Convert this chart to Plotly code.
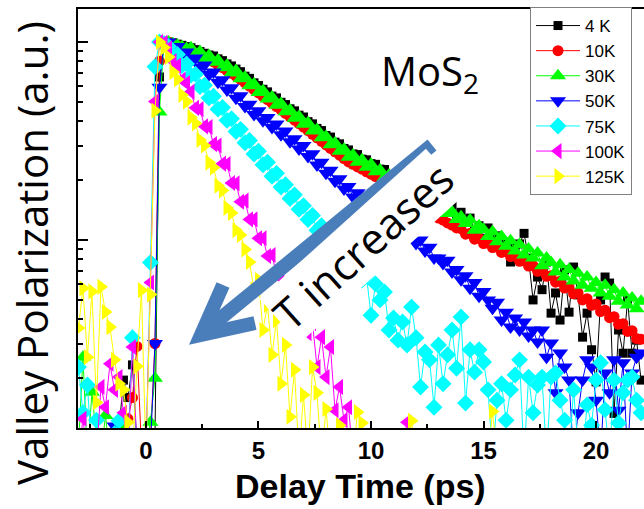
import plotly.graph_objects as go

# Delay time grid (ps)
T = [-3.0, -2.8, -2.6, -2.4, -2.2, -2.0, -1.8, -1.6, -1.4, -1.2,
     -1.0, -0.8, -0.6, -0.4, -0.2, 0.0, 0.2, 0.4, 0.6, 0.8,
     1.0, 1.2, 1.4, 1.6, 1.8, 2.0, 2.2, 2.4, 2.6, 2.8,
     3.0, 3.2, 3.4, 3.6, 3.8, 4.0, 4.2, 4.4, 4.6, 4.8,
     5.0, 5.2, 5.4, 5.6, 5.8, 6.0, 6.2, 6.4, 6.6, 6.8,
     7.0, 7.2, 7.4, 7.6, 7.8, 8.0, 8.2, 8.4, 8.6, 8.8,
     9.0, 9.2, 9.4, 9.6, 9.8, 10.0, 10.2, 10.4, 10.6, 10.8,
     11.0, 11.2, 11.4, 11.6, 11.8, 12.0, 12.2, 12.4, 12.6, 12.8,
     13.0, 13.2, 13.4, 13.6, 13.8, 14.0, 14.2, 14.4, 14.6, 14.8,
     15.0, 15.2, 15.4, 15.6, 15.8, 16.0, 16.2, 16.4, 16.6, 16.8,
     17.0, 17.2, 17.4, 17.6, 17.8, 18.0, 18.2, 18.4, 18.6, 18.8,
     19.0, 19.2, 19.4, 19.6, 19.8, 20.0, 20.2, 20.4, 20.6, 20.8,
     21.0, 21.2, 21.4, 21.6, 21.8, 22.0]

K4 = [0.008, 0.009, 0.008, 0.008, 0.010, 0.008, 0.009, 0.008, 0.008, 0.011,
      0.0196, 0.016, 0.0234, 0.009, 0.008, 0.009, 0.008, 0.010, 0.666, 0.97,
      1.0, 0.99, 0.975, 0.962, 0.948, 0.935, 0.915, 0.895, 0.877, 0.86,
      0.85, 0.822, 0.805, 0.775, 0.757, 0.73, 0.708, 0.672, 0.655, 0.622,
      0.603, 0.577, 0.56, 0.533, 0.522, 0.496, 0.483, 0.46, 0.449, 0.427,
      0.418, 0.396, 0.386, 0.366, 0.357, 0.337, 0.331, 0.312, 0.306, 0.29,
      0.285, 0.272, 0.27, 0.256, 0.254, 0.243, 0.241, 0.228, 0.227, 0.214,
      0.213, 0.202, 0.2, 0.189, 0.188, 0.179, 0.167, 0.175, 0.159, 0.163,
      0.152, 0.159, 0.142, 0.150, 0.134, 0.138, 0.123, 0.129, 0.112, 0.118,
      0.102, 0.115, 0.0943, 0.105, 0.089, 0.0977, 0.0774, 0.091, 0.0955, 0.108,
      0.081, 0.0498, 0.065, 0.0561, 0.0774, 0.0427, 0.054, 0.0394, 0.0706, 0.0432,
      0.073, 0.0528, 0.0323, 0.0427, 0.0279, 0.0192, 0.0498, 0.065, 0.0606, 0.0133,
      0.0351, 0.0268, 0.0498, 0.0268, 0.0312, 0.0196]

K10 = [0.008, 0.008, 0.009, 0.008, 0.008, 0.008, 0.009, 0.008, 0.008, 0.008,
       0.008, 0.0125, 0.016, 0.029, 0.009, 0.009, 0.010, 0.03, 0.80, 0.995,
       1.0, 0.979, 0.959, 0.939, 0.92, 0.90, 0.878, 0.856, 0.834, 0.813,
       0.793, 0.767, 0.742, 0.718, 0.695, 0.673, 0.647, 0.622, 0.598, 0.575,
       0.553, 0.531, 0.511, 0.491, 0.472, 0.454, 0.436, 0.419, 0.403, 0.387,
       0.372, 0.357, 0.342, 0.328, 0.315, 0.302, 0.29, 0.279, 0.268, 0.258,
       0.248, 0.241, 0.234, 0.228, 0.221, 0.215, 0.209, 0.204, 0.198, 0.193,
       0.187, 0.181, 0.174, 0.168, 0.161, 0.155, 0.150, 0.144, 0.139, 0.134,
       0.129, 0.126, 0.122, 0.119, 0.115, 0.114, 0.107, 0.108, 0.101, 0.102,
       0.096, 0.0965, 0.0915, 0.092, 0.0865, 0.0875, 0.0825, 0.083, 0.078, 0.0785,
       0.0738, 0.0742, 0.0695, 0.0698, 0.0655, 0.066, 0.0612, 0.0618, 0.0572, 0.0578,
       0.0535, 0.054, 0.0498, 0.0505, 0.0468, 0.0475, 0.0435, 0.0442, 0.0405, 0.041,
       0.0375, 0.0378, 0.0345, 0.0348, 0.0318, 0.0315]

K30 = [0.009, 0.0256, 0.008, 0.017, 0.010, 0.008, 0.013, 0.008, 0.009, 0.008,
       0.011, 0.008, 0.010, 0.009, 0.008, 0.009, 0.012, 0.02, 0.443, 0.99,
       1.0, 0.98, 0.963, 0.946, 0.928, 0.935, 0.865, 0.895, 0.825, 0.855,
       0.79, 0.81, 0.742, 0.762, 0.697, 0.718, 0.652, 0.663, 0.601, 0.613,
       0.556, 0.568, 0.516, 0.527, 0.479, 0.489, 0.444, 0.454, 0.412, 0.421,
       0.384, 0.391, 0.355, 0.361, 0.328, 0.333, 0.303, 0.309, 0.281, 0.287,
       0.262, 0.269, 0.247, 0.254, 0.233, 0.241, 0.221, 0.226, 0.207, 0.213,
       0.196, 0.20, 0.184, 0.188, 0.173, 0.177, 0.162, 0.167, 0.152, 0.158,
       0.148, 0.150, 0.136, 0.139, 0.127, 0.131, 0.121, 0.126, 0.112, 0.118,
       0.113, 0.104, 0.110, 0.098, 0.104, 0.093, 0.099, 0.088, 0.095, 0.084,
       0.090, 0.081, 0.086, 0.074, 0.081, 0.077, 0.069, 0.075, 0.065, 0.071,
       0.062, 0.068, 0.059, 0.065, 0.057, 0.061, 0.054, 0.059, 0.052, 0.056,
       0.049, 0.054, 0.047, 0.051, 0.045, 0.049]

K50 = [0.008, 0.008, 0.008, 0.008, 0.008, 0.008, 0.008, 0.008, 0.0115, 0.008,
       0.008, 0.008, 0.009, 0.008, 0.008, 0.008, 0.009, 0.03, 0.59, 1.0,
       1.0, 0.93, 0.95, 0.87, 0.89, 0.81, 0.83, 0.745, 0.765, 0.685,
       0.705, 0.627, 0.645, 0.572, 0.588, 0.52, 0.535, 0.472, 0.485, 0.43,
       0.45, 0.40, 0.416, 0.37, 0.385, 0.34, 0.355, 0.313, 0.325, 0.288,
       0.30, 0.264, 0.273, 0.239, 0.247, 0.217, 0.225, 0.198, 0.204, 0.181,
       0.186, 0.165, 0.173, 0.152, 0.159, 0.141, 0.147, 0.131, 0.137, 0.123,
       0.128, 0.113, 0.119, 0.104, 0.109, 0.096, 0.100, 0.088, 0.092, 0.081,
       0.081, 0.076, 0.079, 0.069, 0.071, 0.063, 0.066, 0.057, 0.061, 0.052,
       0.055, 0.0498, 0.0452, 0.0484, 0.0394, 0.0432, 0.0363, 0.0404, 0.0351, 0.0385,
       0.0327, 0.0351, 0.0305, 0.0351, 0.0256, 0.0302, 0.0169, 0.0269, 0.0228, 0.0196,
       0.008, 0.0134, 0.0196, 0.0248, 0.0228, 0.0155, 0.008, 0.0213, 0.0169, 0.0248,
       0.0138, 0.024, 0.008, 0.0213, 0.0256, 0.0269]

K75 = [0.0228, 0.0134, 0.0185, 0.008, 0.0123, 0.008, 0.009, 0.008, 0.0105, 0.0122,
       0.008, 0.009, 0.0321, 0.008, 0.009, 0.008, 0.077, 0.75, 1.0, 0.98,
       0.95, 0.85, 0.865, 0.76, 0.775, 0.68, 0.688, 0.595, 0.605, 0.522,
       0.532, 0.458, 0.467, 0.402, 0.41, 0.353, 0.362, 0.31, 0.318, 0.272,
       0.281, 0.24, 0.247, 0.21, 0.217, 0.185, 0.19, 0.162, 0.169, 0.143,
       0.149, 0.127, 0.133, 0.112, 0.118, 0.10, 0.105, 0.088, 0.094, 0.079,
       0.081, 0.072, 0.074, 0.0628, 0.0657, 0.0417, 0.060, 0.0498, 0.0546, 0.0351,
       0.0404, 0.0312, 0.0385, 0.0295, 0.0458, 0.0321, 0.0181, 0.0272, 0.0248, 0.0143,
       0.0295, 0.0188, 0.0263, 0.0351, 0.0225, 0.0408, 0.015, 0.0279, 0.0215, 0.0279,
       0.0242, 0.0175, 0.008, 0.0155, 0.0188, 0.0123, 0.0175, 0.0208, 0.0248, 0.008,
       0.0203, 0.0134, 0.0185, 0.0203, 0.008, 0.0203, 0.0213, 0.0155, 0.0123, 0.008,
       0.0175, 0.009, 0.008, 0.0147, 0.0116, 0.0196, 0.024, 0.0139, 0.008, 0.0196,
       0.0119, 0.0169, 0.0196, 0.0203, 0.0155, 0.0134]

K100 = [0.008, 0.0125, 0.008, 0.009, 0.008, 0.0181, 0.0143, 0.0237, 0.0175, 0.0203,
        0.0134, 0.008, 0.0288, 0.009, 0.008, 0.009, 0.061, 0.50, 1.0, 0.99,
        0.93, 0.80, 0.76, 0.645, 0.62, 0.56, 0.465, 0.458, 0.375, 0.372,
        0.305, 0.30, 0.243, 0.242, 0.194, 0.193, 0.156, 0.158, 0.127, 0.127,
        0.102, 0.102, 0.083, 0.084, 0.067, 0.066, 0.056, 0.055, 0.046, 0.045,
        0.0394, 0.0338, 0.038, 0.0228, 0.0323, 0.0203, 0.0288, 0.0138, 0.0181, 0.0123,
        0.0143, 0.008, 0.008, 0.009, 0.008, 0.008, 0.008, 0.009, 0.008, 0.008,
        0.008, 0.008, 0.009, 0.012, 0.008, 0.008, 0.008, 0.008, 0.009, 0.008,
        0.008, 0.008, 0.008, 0.008, 0.008, 0.008, 0.009, 0.008, 0.008, 0.008,
        0.008, 0.008, 0.008, 0.008, 0.008, 0.008, 0.008, 0.008, 0.008, 0.008,
        0.008, 0.008, 0.008, 0.008, 0.008, 0.008, 0.008, 0.008, 0.008, 0.008,
        0.008, 0.008, 0.008, 0.008, 0.008, 0.008, 0.008, 0.008, 0.008, 0.008,
        0.008, 0.008, 0.008, 0.008, 0.008, 0.008]

K125 = [0.0359, 0.057, 0.0256, 0.055, 0.0151, 0.058, 0.0433, 0.0363, 0.0248, 0.0188,
        0.0175, 0.012, 0.008, 0.023, 0.0558, 0.008, 0.053, 0.45, 1.0, 0.937,
        0.84, 0.705, 0.648, 0.54, 0.50, 0.415, 0.388, 0.32, 0.30, 0.246,
        0.232, 0.188, 0.178, 0.145, 0.137, 0.112, 0.106, 0.0896, 0.0774, 0.0561,
        0.0628, 0.0351, 0.047, 0.0263, 0.0394, 0.0188, 0.0295, 0.0128, 0.0221, 0.008,
        0.0165, 0.008, 0.0228, 0.0169, 0.008, 0.014, 0.008, 0.008, 0.0116, 0.008,
        0.008, 0.008, 0.0135, 0.0119, 0.008, 0.008, 0.008, 0.008, 0.008, 0.008,
        0.008, 0.008, 0.008, 0.008, 0.0122, 0.008, 0.008, 0.008, 0.008, 0.008,
        0.008, 0.008, 0.008, 0.008, 0.008, 0.008, 0.008, 0.008, 0.008, 0.008,
        0.008, 0.008, 0.0136, 0.008, 0.008, 0.008, 0.008, 0.008, 0.008, 0.008,
        0.008, 0.008, 0.008, 0.008, 0.008, 0.008, 0.008, 0.008, 0.008, 0.008,
        0.008, 0.008, 0.008, 0.008, 0.008, 0.008, 0.008, 0.008, 0.008, 0.008,
        0.008, 0.008, 0.008, 0.008, 0.008, 0.008]

NAMES = ["4 K", "10K", "30K", "50K", "75K", "100K", "125K"]
SERIES = [K4, K10, K30, K50, K75, K100, K125]
COLORS = ["#000000", "#ff0000", "#00ff00", "#0000ff", "#00ffff", "#ff00ff", "#ffff00"]
SYMBOLS = ["square", "circle", "triangle-up", "triangle-down", "diamond",
           "triangle-left", "triangle-right"]
SIZES = [9, 11, 14, 14, 13, 14, 14]

X_TICKS = [0, 5, 10, 15, 20]
X_MINOR = [-2.5, 2.5, 7.5, 12.5, 17.5]
Y_TICKS = [0.1, 1]
Y_MINOR = [0.02, 0.03, 0.04, 0.05, 0.06, 0.07, 0.08, 0.09,
           0.2, 0.3, 0.4, 0.5, 0.6, 0.7, 0.8, 0.9]

for s in SERIES:
    assert len(s) == len(T), len(s)

fig = go.Figure()
for name, ys, c, sym, sz in zip(NAMES, SERIES, COLORS, SYMBOLS, SIZES):
    fig.add_trace(go.Scatter(
        x=T, y=ys, name=name, mode="lines+markers",
        line=dict(color=c, width=1),
        marker=dict(symbol=sym, size=sz, color=c, line=dict(width=0)),
    ))

W, H = 644, 509
L, R, TOP, B = 78, 0, 9, 81
PW, PH = W - L - R, H - TOP - B


def px(xp):
    return (xp - L) / PW


def py(yp):
    return (H - B - yp) / PH


ARROW = "#4A7EBB"
shapes = [
    dict(type="line", xref="paper", yref="paper",
         x0=px(432), y0=py(145), x1=px(205), y1=py(331),
         line=dict(color=ARROW, width=14)),
    dict(type="path", xref="paper", yref="paper",
         path=f"M {px(223):.4f},{py(285):.4f} L {px(201):.4f},{py(335):.4f} L {px(255):.4f},{py(323):.4f}",
         line=dict(color=ARROW, width=14)),
]

annotations = [
    dict(xref="paper", yref="paper", x=px(31), y=py(253), text="Valley Polarization (a.u.)",
         textangle=-90, showarrow=False, xanchor="center", yanchor="middle",
         font=dict(family="Open Sans", size=42, color="black")),
    dict(xref="paper", yref="paper", x=px(360), y=py(486), text="<b>Delay Time (ps)</b>",
         showarrow=False, xanchor="center", yanchor="middle",
         font=dict(family="Liberation Sans, Arial", size=34, color="black")),
    dict(xref="paper", yref="paper", x=px(430), y=py(72), text="MoS<sub>2</sub>",
         showarrow=False, xanchor="center", yanchor="middle",
         font=dict(family="Open Sans", size=40, color="black")),
    dict(xref="paper", yref="paper", x=px(362), y=py(246), text="T increases",
         textangle=-42, showarrow=False, xanchor="center", yanchor="middle",
         bgcolor="white", borderpad=0,
         font=dict(family="Open Sans", size=43, color="black")),
]

fig.update_layout(
    width=W, height=H,
    margin=dict(l=L, r=R, t=TOP, b=B),
    paper_bgcolor="white", plot_bgcolor="white",
    showlegend=True,
    legend=dict(x=px(530), y=py(7), xanchor="left", yanchor="top",
                bgcolor="white", bordercolor="#808080", borderwidth=1,
                font=dict(family="Liberation Sans, Arial", size=17, color="black"),
                itemwidth=44, tracegroupgap=0, entrywidth=70, entrywidthmode="pixels"),
    xaxis=dict(range=[-3.02, 22.13], showline=True, mirror=True, linecolor="black", linewidth=2,
               ticks="inside", tickvals=X_TICKS, ticklen=7, tickwidth=2, tickcolor="black",
               tickfont=dict(family="Liberation Sans, Arial", size=24, color="black", weight="bold"),
               ticklabelstandoff=0,
               minor=dict(ticks="inside", tickvals=X_MINOR, ticklen=4, tickwidth=2, tickcolor="black"),
               showgrid=False, zeroline=False),
    yaxis=dict(type="log", range=[-1.9497, 0.1667], showline=True, linecolor="black", linewidth=2,
               ticks="inside", tickvals=Y_TICKS, ticklen=10, tickwidth=2, tickcolor="black",
               showticklabels=False,
               minor=dict(ticks="inside", tickvals=Y_MINOR, ticklen=5, tickwidth=1.5, tickcolor="black"),
               showgrid=False, zeroline=False),
    shapes=shapes,
    annotations=annotations,
)

fig.write_html("out.html")
